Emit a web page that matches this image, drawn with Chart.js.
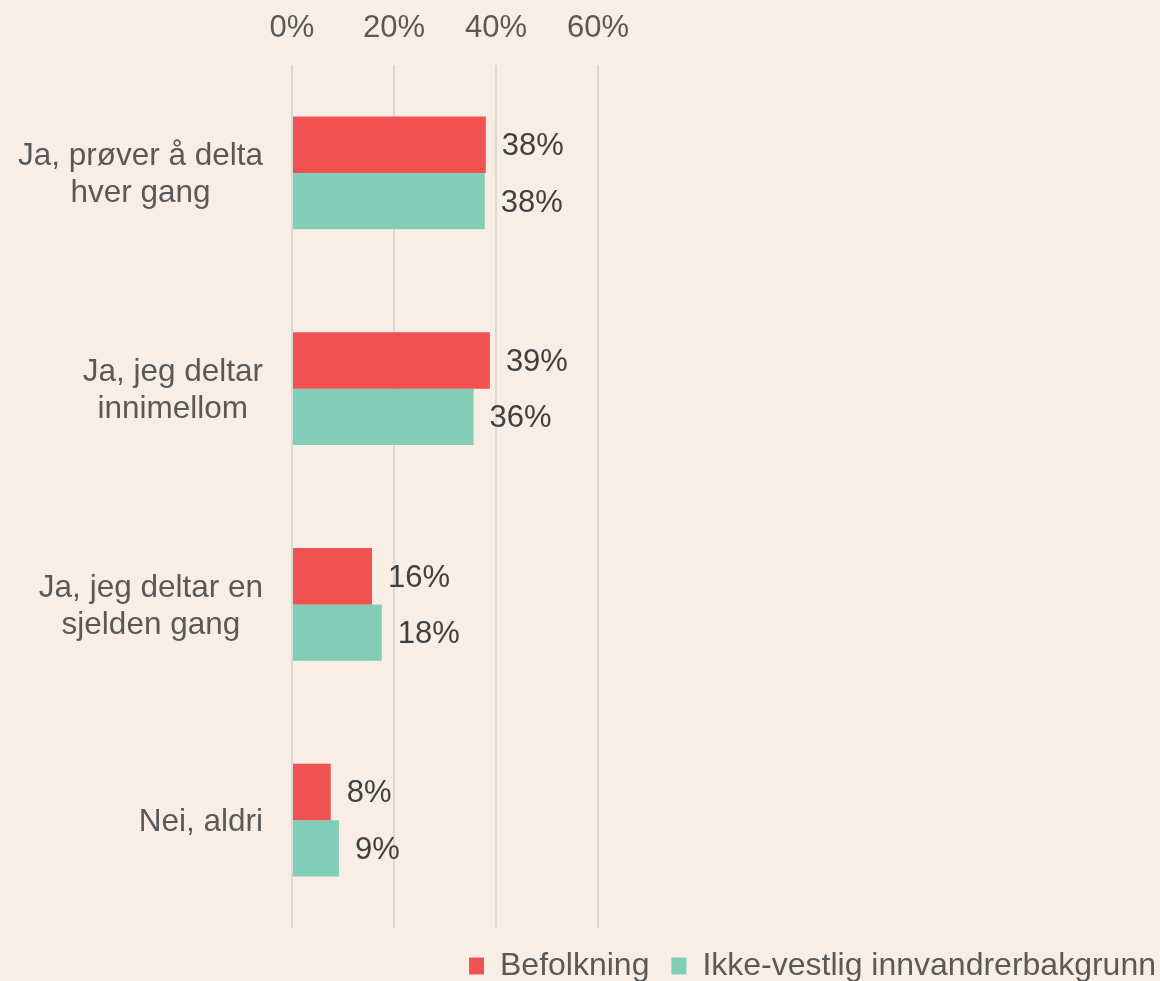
<!DOCTYPE html>
<html lang="no">

<head>
    <meta charset="UTF-8">
    <title>Deltakelse</title>
    <script src="https://cdn.jsdelivr.net/npm/chart.js"></script>
    <style>
        html, body { margin: 0; padding: 0; background: #f9eee6; }
        #wrap { width: 1160px; height: 981px; }
    </style>
</head>

<body>
    <div id="wrap"><canvas id="myChart"></canvas></div>
    <script>
        // data
        const categories = [
            ['Ja, prøver å delta', 'hver gang'],
            ['Ja, jeg deltar', 'innimellom'],
            ['Ja, jeg deltar en', 'sjelden gang'],
            ['Nei, aldri']
        ];
        const befolkning = [38.0, 38.8, 15.7, 7.6];
        const ikkeVestlig = [37.8, 35.6, 17.6, 9.2];
        const seriesNames = ['Befolkning', 'Ikke-vestlig innvandrerbakgrunn'];
        const tickValues = [0, 20, 40, 60];

        const FONT = '"Liberation Sans", Arial, sans-serif';

        // category labels: each block right aligned, lines centred inside it
        const categoryLabels = {
            id: 'categoryLabels',
            afterDraw(chart) {
                const ctx = chart.ctx;
                const y = chart.scales.y;
                ctx.save();
                ctx.font = '31.5px ' + FONT;
                ctx.fillStyle = '#595959';
                ctx.textAlign = 'center';
                ctx.textBaseline = 'middle';
                const lineH = 37;
                categories.forEach((lines, i) => {
                    const widest = Math.max(...lines.map(l => ctx.measureText(l).width));
                    const cx = y.right - 29 - widest / 2;
                    const cy = y.getPixelForValue(i) + 2;
                    lines.forEach((l, k) => {
                        ctx.fillText(l, cx, cy + (k - (lines.length - 1) / 2) * lineH);
                    });
                });
                ctx.restore();
            }
        };

        const valueLabels = {
            id: 'valueLabels',
            afterDatasetsDraw(chart) {
                const ctx = chart.ctx;
                ctx.save();
                ctx.font = '31px ' + FONT;
                ctx.fillStyle = '#404040';
                ctx.textAlign = 'left';
                ctx.textBaseline = 'middle';
                chart.data.datasets.forEach((ds, di) => {
                    chart.getDatasetMeta(di).data.forEach((bar, i) => {
                        ctx.fillText(Math.round(ds.data[i]) + '%', bar.x + 16, bar.y + 2);
                    });
                });
                ctx.restore();
            }
        };

        // push the legend to the right edge (its trailing padding leaves a gap)
        const legendShift = {
            id: 'legendShift',
            afterLayout(chart) {
                chart.legend.right += 18;
            }
        };

        // chart area runs to the canvas edge, 60% has to land near x=598
        const xMax = 60 * (1160 - 292) / (598 - 292);

        const ctx = document.getElementById('myChart').getContext('2d');
        new Chart(ctx, {
            type: 'bar',
            data: {
                labels: categories,
                datasets: [{
                    label: seriesNames[0],
                    data: befolkning,
                    backgroundColor: '#f05252',
                    categoryPercentage: 0.523,
                    barPercentage: 1
                }, {
                    label: seriesNames[1],
                    data: ikkeVestlig,
                    backgroundColor: '#82cdb5',
                    categoryPercentage: 0.523,
                    barPercentage: 1
                }]
            },
            options: {
                indexAxis: 'y',
                responsive: true,
                maintainAspectRatio: false,
                animation: false,
                layout: { padding: { left: 0, right: 0, top: 0, bottom: -11 } },
                scales: {
                    x: {
                        position: 'top',
                        min: 0,
                        max: xMax,
                        afterBuildTicks: s => { s.ticks = tickValues.map(v => ({ value: v })); },
                        afterFit: s => { s.height = 65; },
                        border: { display: false },
                        grid: { color: '#d9d9d9', lineWidth: 2, drawTicks: false },
                        ticks: {
                            padding: 18,
                            color: '#595959',
                            font: { family: FONT, size: 31 },
                            callback: v => v + '%'
                        }
                    },
                    y: {
                        afterFit: s => { s.width = 292; },
                        border: { display: false },
                        grid: { display: false },
                        ticks: { color: 'rgba(0,0,0,0)', font: { family: FONT, size: 32 } }
                    }
                },
                plugins: {
                    legend: {
                        position: 'bottom',
                        align: 'end',
                        labels: {
                            color: '#595959',
                            font: { family: FONT, size: 32 },
                            boxWidth: 15,
                            boxHeight: 17,
                            padding: 22
                        }
                    },
                    tooltip: { enabled: false }
                }
            },
            plugins: [categoryLabels, valueLabels, legendShift]
        });
    </script>
</body>

</html>
